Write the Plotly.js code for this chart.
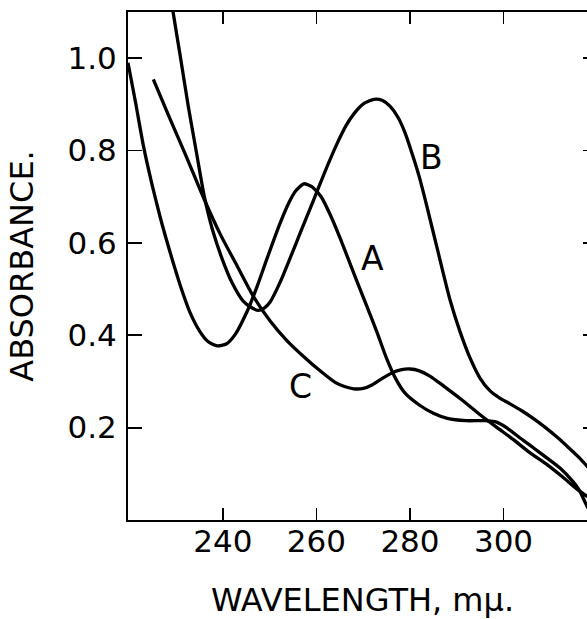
<!DOCTYPE html>
<html>
<head>
<meta charset="utf-8">
<script src="https://cdn.plot.ly/plotly-3.0.1.min.js"></script>
<style>
html, body { margin: 0; padding: 0; overflow: hidden; background: #fff; }
#chart { width: 610px; height: 619px; }
</style>
</head>
<body>
<div id="chart"></div>
<script>
// Curve A
const wavelengthA = [219.7, 221.3, 223.0, 224.8, 226.6, 228.75, 230.88, 233.02, 235.15, 236.86, 238.78, 240.70, 242.63, 245.19, 247.32, 249.46, 252.0, 254.0, 255.5, 257.3, 259.0, 261.0, 263.0, 265.0, 267.0, 269.0, 271.0, 273.0, 275.0, 277.0, 279.0, 282.0, 285.0, 288.0, 292.0, 296.0, 298.51, 300.64, 303.48, 306.32, 309.19, 312.03, 314.87, 316.30, 317.81, 319.93];
const absorbanceA = [0.990, 0.905, 0.810, 0.728, 0.655, 0.578, 0.508, 0.448, 0.407, 0.386, 0.377, 0.381, 0.402, 0.452, 0.506, 0.567, 0.637, 0.685, 0.712, 0.728, 0.722, 0.700, 0.660, 0.612, 0.560, 0.508, 0.457, 0.405, 0.350, 0.305, 0.274, 0.249, 0.231, 0.220, 0.215, 0.215, 0.212, 0.200, 0.178, 0.157, 0.135, 0.113, 0.083, 0.063, 0.031, -0.006];
// Curve B
const wavelengthB = [228.96, 229.39, 230.88, 232.59, 234.30, 236.01, 237.72, 239.85, 241.99, 244.33, 246.26, 247.54, 248.82, 250.10, 252.24, 254.37, 256.51, 259.28, 261.85, 264.41, 266.33, 268.04, 270.17, 272.31, 274.02, 275.72, 277.43, 278.93, 280.85, 282.13, 283.62, 285.97, 288.53, 290.67, 292.80, 294.94, 297.08, 299.2, 301.5, 304.0, 306.5, 309.0, 311.5, 314.0, 316.5, 318.0, 320.0];
const absorbanceB = [1.127, 1.097, 1.004, 0.896, 0.798, 0.701, 0.630, 0.565, 0.513, 0.474, 0.459, 0.454, 0.459, 0.472, 0.515, 0.567, 0.621, 0.690, 0.755, 0.815, 0.854, 0.880, 0.902, 0.911, 0.909, 0.896, 0.872, 0.839, 0.781, 0.738, 0.679, 0.582, 0.478, 0.409, 0.352, 0.308, 0.280, 0.264, 0.251, 0.236, 0.219, 0.200, 0.179, 0.156, 0.132, 0.115, 0.094];
// Curve C
const wavelengthC = [225.12, 228.75, 232.17, 236.01, 239.42, 243.05, 246.47, 250.10, 253.73, 257.36, 260.78, 264.0, 266.0, 268.0, 270.0, 272.0, 274.0, 276.0, 278.0, 280.0, 282.0, 284.0, 286.0, 288.0, 291.0, 295.0, 298.5, 301.99, 305.62, 309.19, 312.67, 315.59, 317.79, 319.93];
const absorbanceC = [0.954, 0.867, 0.787, 0.694, 0.619, 0.550, 0.485, 0.431, 0.388, 0.353, 0.323, 0.298, 0.289, 0.284, 0.285, 0.293, 0.306, 0.318, 0.325, 0.327, 0.323, 0.313, 0.299, 0.284, 0.261, 0.228, 0.201, 0.175, 0.146, 0.121, 0.093, 0.068, 0.052, 0.041];

const xTickVals = [240, 260, 280, 300];
const xTickText = ["240", "260", "280", "300"];
const yTickVals = [0.2, 0.4, 0.6, 0.8, 1.0];
const yTickText = ["0.2", "0.4", "0.6", "0.8", "1.0"];
const curveLabels = ["A", "B", "C"];
const labelX = [271.9, 284.5, 256.5];
const labelY = [0.567, 0.785, 0.290];

const FONT = "DejaVu Sans, sans-serif";
const lineStyle = { color: "#000", width: 3.3, shape: "spline", smoothing: 0.6 };

const traces = [
  { x: wavelengthA, y: absorbanceA, name: "A", mode: "lines", line: lineStyle },
  { x: wavelengthB, y: absorbanceB, name: "B", mode: "lines", line: lineStyle },
  { x: wavelengthC, y: absorbanceC, name: "C", mode: "lines", line: lineStyle }
];

const annotations = curveLabels.map((t, i) => ({
  x: labelX[i], y: labelY[i], xref: "x", yref: "y", text: t, showarrow: false,
  font: { family: FONT, size: 33, color: "#000" }
}));

const layout = {
  width: 610, height: 619,
  margin: { l: 127.5, r: 13, t: 12, b: 99 },
  paper_bgcolor: "#fff", plot_bgcolor: "#fff",
  showlegend: false,
  font: { family: FONT, color: "#000" },
  xaxis: {
    range: [219.7, 320],
    tickvals: xTickVals, ticktext: xTickText,
    ticks: "inside", ticklen: 12, tickwidth: 1.8, tickcolor: "#000",
    showline: true, linecolor: "#000", linewidth: 2, mirror: "ticks",
    showgrid: false, zeroline: false,
    tickfont: { family: FONT, size: 31, color: "#000" },
    ticklabelstandoff: -7,
    title: { text: "WAVELENGTH, mμ.", font: { family: FONT, size: 32, color: "#000" }, standoff: 30 }
  },
  yaxis: {
    range: [0, 1.1],
    tickvals: yTickVals, ticktext: yTickText,
    ticks: "inside", ticklen: 14, tickwidth: 1.8, tickcolor: "#000",
    showline: true, linecolor: "#000", linewidth: 2, mirror: "ticks",
    showgrid: false, zeroline: false,
    tickfont: { family: FONT, size: 31, color: "#000" },
    ticklabelstandoff: 3,
    title: { text: "ABSORBANCE.", font: { family: FONT, size: 32, color: "#000" }, standoff: 24 }
  },
  annotations: annotations
};

Plotly.newPlot("chart", traces, layout, { displayModeBar: false, staticPlot: true });
</script>
</body>
</html>
